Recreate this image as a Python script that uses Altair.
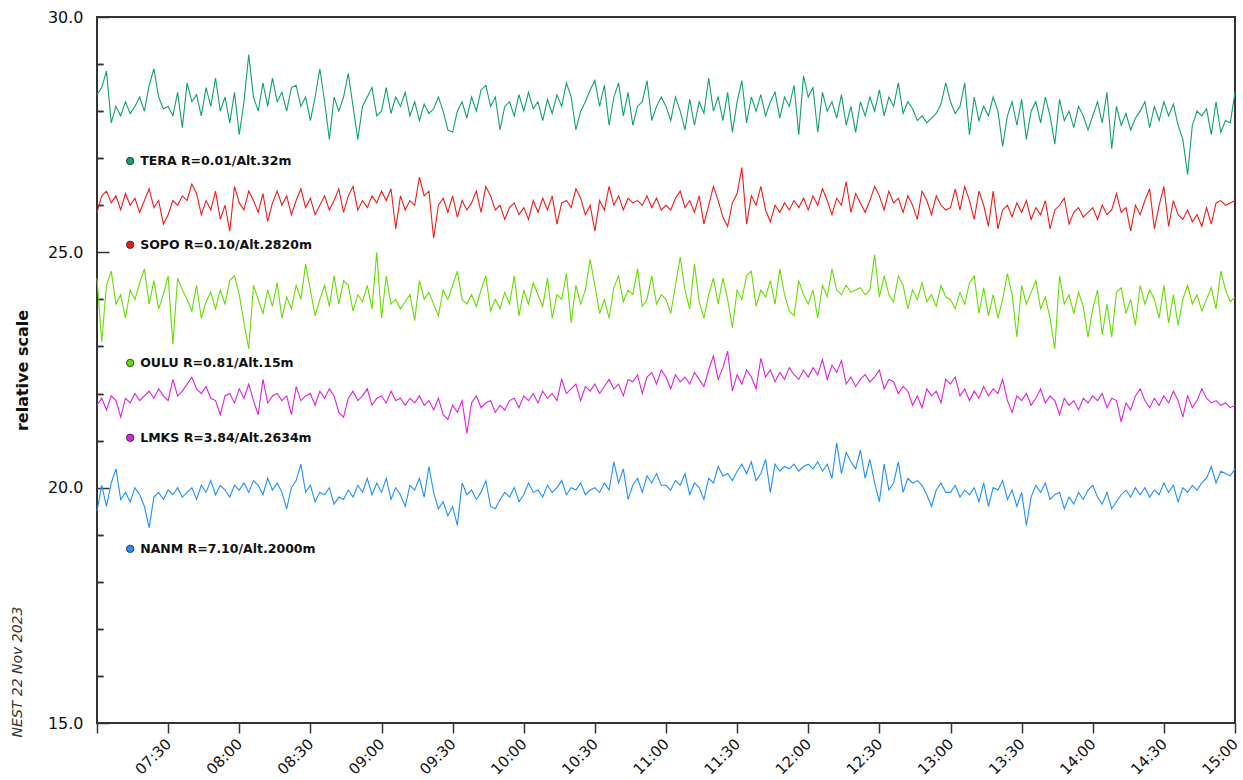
import altair as alt
import pandas as pd

stations = ["TERA", "SOPO", "OULU", "LMKS", "NANM"]
colors = ["#12a06e", "#ee1c1c", "#66dd00", "#dd22dd", "#2090ff"]
label_texts = ["TERA R=0.01/Alt.32m", "SOPO R=0.10/Alt.2820m", "OULU R=0.81/Alt.15m",
               "LMKS R=3.84/Alt.2634m", "NANM R=7.10/Alt.2000m"]
label_values = [26.94, 25.16, 22.65, 21.06, 18.70]
label_time = "2023-11-22T07:14:00Z"
footer_text = ["NEST  22 Nov 2023"]

tera = [
    28.35, 28.5, 28.85, 27.75, 28.1, 27.9, 28.2, 27.95, 28.1, 28.3, 28.0, 28.55, 28.9, 28.3, 28.05,
    28.1, 27.9, 28.4, 27.65, 28.6, 28.2, 28.35, 27.9, 28.5, 28.1, 28.7, 28.0, 28.3, 27.75, 28.4,
    27.5, 28.2, 29.2, 28.3, 28.0, 28.6, 28.1, 28.7, 28.2, 28.4, 28.0, 28.5, 28.55, 28.1, 28.3,
    27.8, 28.3, 28.9, 28.2, 27.4, 28.3, 28.0, 28.3, 28.8, 28.1, 27.4, 28.1, 28.3, 28.5, 27.9,
    28.0, 28.5, 27.95, 28.3, 28.1, 28.4, 27.9, 28.2, 27.8, 28.15, 27.95, 28.05, 28.3, 28.0, 27.6,
    27.55, 28.0, 28.2, 27.85, 28.3, 28.0, 28.45, 28.55, 28.1, 28.3, 27.6, 28.1, 28.2, 27.9, 28.35,
    28.0, 28.4, 28.05, 28.2, 27.8, 28.25, 27.95, 28.35, 28.1, 28.6, 28.3, 27.6, 28.0, 28.2, 28.45,
    28.65, 28.1, 28.55, 27.7, 28.3, 28.6, 27.9, 28.4, 27.7, 28.1, 28.2, 28.65, 27.8, 28.1, 28.3,
    28.1, 27.8, 28.3, 28.0, 27.6, 28.25, 27.7, 28.2, 27.95, 28.7, 28.0, 28.3, 27.8, 28.4, 27.55,
    28.2, 28.65, 27.75, 28.3, 28.0, 28.35, 27.9, 28.2, 28.4, 27.85, 28.3, 28.1, 28.55, 27.5, 28.75,
    28.3, 28.5, 27.55, 28.4, 28.0, 28.2, 27.85, 28.35, 27.7, 28.1, 27.55, 28.2, 27.9, 28.3, 28.0,
    28.45, 27.9, 28.3, 28.1, 28.6, 27.95, 28.2, 28.05, 27.8, 27.9, 27.75, 27.85, 27.95, 28.15, 28.6,
    28.2, 27.95, 28.1, 28.6, 27.5, 28.3, 27.8, 28.1, 27.9, 28.3, 28.0, 27.25, 27.9, 28.2, 27.7,
    28.25, 27.4, 28.0, 28.2, 27.75, 28.3, 27.9, 27.3, 28.25, 27.8, 28.0, 27.65, 28.1, 27.9, 27.6,
    27.9, 28.2, 27.75, 28.4, 27.2, 28.1, 27.7, 27.95, 27.6, 27.85, 28.0, 28.2, 27.65, 28.1, 27.8,
    28.2, 27.9, 28.15, 27.7, 27.4, 26.65, 27.7, 28.0, 27.9, 28.05, 27.5, 28.2, 27.55, 27.8, 27.75,
    28.4,
]

sopo = [
    25.85, 26.2, 26.3, 26.05, 26.2, 25.9, 26.25, 26.0, 26.15, 25.85, 26.1, 26.35, 25.95, 26.1, 25.6,
    25.8, 26.1, 26.0, 26.2, 26.1, 26.45, 26.25, 25.8, 26.1, 25.9, 26.3, 25.7, 26.0, 25.45, 26.4,
    26.05, 25.9, 26.3, 26.1, 25.85, 26.25, 25.65, 26.05, 26.3, 26.0, 26.2, 25.8, 26.1, 26.35, 25.95,
    26.15, 25.8, 26.0, 26.2, 25.9, 26.1, 26.35, 25.85, 26.2, 26.4, 25.9, 26.1, 25.95, 26.2, 26.05,
    26.3, 26.1, 26.35, 25.5, 26.2, 25.9, 26.1, 26.0, 26.6, 26.2, 26.3, 25.3, 26.0, 26.15, 25.85,
    26.2, 25.75, 26.1, 25.9, 26.05, 26.3, 25.85, 26.4, 26.2, 25.9, 26.0, 25.7, 25.95, 26.05, 25.8,
    25.95, 25.7, 26.1, 25.85, 26.15, 25.9, 26.2, 25.6, 26.05, 26.1, 25.95, 26.35, 26.15, 25.8, 26.0,
    25.45, 26.1, 25.9, 26.4, 26.0, 26.2, 25.9, 26.15, 26.05, 26.1, 26.0, 26.2, 25.95, 26.15, 25.9,
    26.0, 25.9, 26.15, 26.3, 25.95, 26.1, 25.85, 26.2, 25.6, 26.0, 26.4, 26.1, 25.75, 25.55, 26.05,
    26.25, 26.8, 25.6, 26.2, 26.0, 26.4, 25.9, 25.65, 26.0, 25.85, 26.05, 25.9, 26.1, 25.95, 26.15,
    25.9, 26.2, 26.0, 26.35, 26.1, 25.8, 26.15, 26.0, 26.5, 25.85, 26.25, 26.05, 25.85, 26.1, 26.4,
    26.2, 25.9, 26.3, 26.05, 26.15, 25.85, 26.2, 26.0, 25.7, 26.3, 26.1, 25.8, 26.2, 26.0, 25.9,
    25.95, 26.35, 25.9, 26.4, 26.1, 25.7, 26.3, 26.0, 25.55, 26.3, 25.5, 25.9, 26.0, 25.75, 26.05,
    25.85, 26.1, 25.7, 25.95, 25.8, 26.1, 25.5, 25.9, 26.0, 26.15, 25.6, 25.85, 25.95, 25.75, 25.85,
    25.95, 25.7, 26.0, 25.8, 25.9, 26.25, 25.85, 25.95, 25.45, 26.0, 25.8, 26.1, 26.35, 25.5, 26.0,
    26.4, 25.55, 26.1, 25.8, 25.7, 25.9, 25.65, 25.8, 25.55, 25.95, 25.6, 26.05, 26.1, 26.0, 26.05,
    26.1,
]

oulu = [
    24.45, 23.1, 24.3, 24.6, 23.9, 24.1, 23.6, 24.2, 24.0, 24.35, 24.65, 23.9, 24.4, 23.8, 24.1,
    24.5, 23.05, 24.45, 24.2, 24.0, 23.75, 24.3, 23.6, 23.95, 24.15, 23.8, 24.2, 23.9, 24.4, 24.5,
    24.1, 23.5, 22.95, 24.3, 24.0, 23.7, 24.2, 23.85, 24.35, 23.6, 24.05, 23.8, 24.3, 24.0, 24.75,
    24.2, 23.65, 24.0, 24.3, 23.85, 24.5, 23.9, 24.4, 24.3, 23.75, 24.1, 23.95, 24.3, 23.8, 25.0,
    23.6, 24.5, 23.9, 24.0, 23.8, 23.95, 24.1, 23.55, 24.4, 24.0, 24.15, 23.9, 23.65, 24.2, 24.0,
    24.3, 24.6, 24.0, 23.9, 24.1, 23.85, 24.2, 24.5, 23.75, 24.0, 23.8, 24.15, 23.9, 24.5, 23.65,
    24.2, 23.9, 24.35, 24.1, 23.85, 24.45, 23.6, 24.1, 24.0, 24.55, 23.5, 24.3, 23.9, 24.2, 24.85,
    24.3, 23.7, 24.0, 23.6, 24.25, 24.5, 23.95, 24.2, 24.1, 24.65, 23.85, 24.0, 24.5, 23.9, 24.1,
    24.0, 23.7, 24.3, 24.9, 24.2, 23.8, 24.75, 23.95, 23.6, 24.1, 24.45, 23.9, 24.45, 24.0, 23.4,
    24.2, 24.0, 24.5, 24.6, 23.85, 24.2, 24.05, 24.4, 23.9, 24.65, 24.1, 23.75, 23.65, 24.4, 24.1,
    23.9, 24.2, 23.6, 24.3, 24.05, 24.65, 24.2, 24.1, 24.3, 24.15, 24.2, 24.25, 24.1, 24.2, 24.95,
    24.05, 24.5, 24.1, 23.95, 24.5, 24.3, 23.8, 24.2, 24.0, 24.35, 23.95, 24.1, 23.85, 24.3, 24.05,
    24.0, 23.8, 24.15, 23.9, 24.35, 24.5, 23.7, 24.25, 23.65, 24.1, 23.6, 24.0, 24.55, 24.1, 23.2,
    24.3, 23.9, 24.15, 24.4, 23.8, 24.05, 23.6, 22.95, 24.5, 23.9, 24.1, 23.7, 24.15, 23.85, 23.2,
    23.8, 24.2, 23.25, 23.9, 23.2, 24.15, 24.25, 23.7, 24.0, 23.45, 24.3, 23.9, 24.2, 24.0, 23.6,
    24.3, 23.5, 24.1, 23.45, 24.0, 24.3, 23.9, 24.1, 23.75, 24.0, 24.25, 23.8, 24.6, 24.2, 23.95,
    24.05,
]

lmks = [
    21.75, 21.9, 21.65, 21.95, 21.85, 21.5, 21.9, 21.8, 22.0, 21.85, 21.95, 22.05, 21.9, 22.1, 21.95,
    21.85, 22.3, 21.95, 22.05, 22.2, 22.35, 22.1, 22.0, 22.15, 21.9, 21.85, 21.55, 21.95, 22.0, 21.8,
    22.1, 21.9, 22.2, 21.85, 21.55, 22.3, 21.8, 21.95, 22.0, 21.85, 21.95, 21.55, 22.15, 21.85, 21.95,
    22.0, 21.75, 22.05, 21.9, 22.1, 21.95, 21.6, 21.5, 21.9, 22.05, 21.85, 21.95, 22.1, 21.75, 21.9,
    21.95, 21.8, 22.05, 21.85, 21.9, 21.75, 21.9, 21.8, 21.95, 21.75, 21.85, 21.65, 21.9, 21.55, 21.45,
    21.75, 21.6, 21.85, 21.15, 21.8, 21.95, 21.7, 21.8, 21.85, 21.6, 21.75, 21.65, 21.85, 21.9, 21.7,
    21.95, 21.85, 22.0, 21.8, 22.05, 21.9, 22.0, 21.85, 22.3, 22.0, 22.1, 22.2, 21.85, 22.15, 22.05,
    22.2, 22.0, 22.15, 22.3, 22.1, 22.2, 21.95, 22.3, 22.25, 22.4, 22.0, 22.35, 22.45, 22.2, 22.5,
    22.35, 22.1, 22.4, 22.25, 22.35, 22.2, 22.45, 22.3, 22.15, 22.5, 22.8, 22.3, 22.55, 22.9, 22.05,
    22.4, 22.2, 22.5, 22.35, 22.1, 22.75, 22.35, 22.5, 22.25, 22.45, 22.3, 22.55, 22.4, 22.3, 22.5,
    22.35, 22.55, 22.4, 22.72, 22.3, 22.6, 22.45, 22.7, 22.2, 22.35, 22.15, 22.3, 22.4, 22.25, 22.35,
    22.5, 22.1, 22.3, 22.25, 22.0, 22.15, 22.05, 21.75, 21.95, 21.7, 22.1, 21.95, 22.05, 21.8, 22.3,
    22.2, 22.35, 21.95, 22.1, 21.85, 22.05, 21.9, 22.15, 21.95, 22.1, 22.0, 22.3, 21.85, 21.6, 21.95,
    21.85, 22.0, 21.75, 21.9, 22.1, 21.8, 21.95, 21.85, 21.55, 21.9, 21.75, 21.85, 21.65, 21.9, 21.8,
    21.95, 21.85, 22.0, 21.7, 21.9, 21.85, 21.4, 21.8, 21.65, 21.95, 22.1, 21.85, 21.7, 21.9, 21.75,
    21.95, 21.8, 22.05, 21.85, 21.5, 21.95, 21.7, 21.85, 22.1, 21.9, 21.8, 21.85, 21.75, 21.8, 21.7,
    21.75,
]

nanm = [
    19.5, 20.05, 19.6, 20.1, 20.4, 19.75, 19.9, 19.7, 20.0, 19.85, 19.6, 19.15, 19.8, 19.9, 19.75,
    19.95, 19.85, 20.0, 19.8, 19.9, 20.0, 19.75, 20.05, 19.9, 20.15, 19.85, 20.05, 19.95, 19.8, 20.05,
    19.95, 20.1, 19.9, 20.15, 20.05, 19.85, 20.2, 19.95, 20.1, 19.9, 19.55, 20.0, 20.15, 20.5, 19.9,
    20.05, 19.7, 19.9, 19.85, 20.0, 19.65, 19.8, 19.75, 19.95, 19.8, 20.05, 19.9, 20.2, 19.85, 20.1,
    19.9, 20.2, 19.75, 20.0, 19.85, 19.6, 20.05, 19.95, 20.2, 19.8, 20.45, 19.9, 19.55, 19.7, 19.4,
    19.6, 19.2, 20.1, 19.85, 19.95, 19.75, 19.9, 20.15, 19.6, 19.55, 19.75, 19.9, 19.8, 20.0, 19.7,
    19.85, 20.1, 19.9, 19.95, 19.8, 20.05, 19.9, 20.0, 20.15, 19.85, 20.0, 19.95, 20.1, 19.85, 19.95,
    20.0, 19.9, 20.1, 19.95, 20.55, 20.1, 20.4, 19.75, 20.05, 20.2, 19.9, 20.25, 20.1, 20.3, 20.05,
    20.05, 19.95, 20.15, 20.05, 20.3, 19.85, 20.1, 20.0, 19.75, 20.2, 20.1, 20.45, 20.25, 20.3, 20.15,
    20.35, 20.5, 20.3, 20.55, 20.15, 20.3, 20.6, 19.9, 20.5, 20.35, 20.45, 20.4, 20.5, 20.35, 20.45,
    20.5, 20.4, 20.55, 20.35, 20.5, 20.2, 20.95, 20.3, 20.75, 20.55, 20.4, 20.8, 20.2, 20.6, 20.1,
    19.7, 20.5, 19.95, 20.1, 20.55, 19.9, 20.2, 20.1, 20.15, 20.05, 19.85, 19.6, 19.95, 20.1, 19.9,
    19.9, 20.05, 19.8, 19.95, 19.85, 20.0, 19.7, 20.1, 19.6, 20.0, 19.95, 20.15, 19.75, 19.95, 19.6,
    19.9, 19.2, 19.8, 20.05, 19.9, 20.1, 19.75, 19.85, 19.9, 19.55, 19.8, 19.65, 19.9, 19.75, 19.95,
    20.05, 19.8, 19.65, 19.9, 19.55, 19.7, 19.85, 19.95, 19.8, 20.0, 19.85, 20.0, 19.8, 19.95, 19.85,
    20.1, 19.9, 20.05, 19.7, 20.0, 19.9, 20.05, 19.95, 20.1, 20.2, 20.45, 20.1, 20.35, 20.3, 20.25,
    20.4,
]

series = [tera, sopo, oulu, lmks, nanm]
times = pd.date_range("2023-11-22 07:00", periods=241, freq="2min")
rows = []
for st, vals in zip(stations, series):
    assert len(vals) == len(times), (st, len(vals))
    for t, v in zip(times, vals):
        rows.append({"time": t.strftime("%Y-%m-%dT%H:%M:00Z"), "station": st, "value": v})
df = pd.DataFrame(rows)

lab_df = pd.DataFrame({"time": [label_time] * 5, "station": stations,
                       "value": label_values, "text": label_texts})
foot_df = pd.DataFrame({"text": footer_text})


def dt(h, m):
    return alt.DateTime(year=2023, month=11, date=22, hours=h, minutes=m, utc=True)


tick_values = [dt(7 + (i * 30) // 60, (i * 30) % 60) for i in range(17)]
xscale = alt.Scale(type="utc", domain=[dt(7, 0), dt(15, 0)])
yscale = alt.Scale(domain=[15, 30], nice=False, zero=False)
cscale = alt.Scale(domain=stations, range=colors)

x_axis = alt.Axis(values=tick_values, format="%H:%M", labelAngle=-45, labelAlign="right",
                  labelBaseline="middle", labelPadding=8, labelFontSize=15,
                  labelFont="DejaVu Sans", labelColor="#111", tickSize=10, tickColor="#333",
                  tickWidth=1.5, domain=False, grid=False, title=None,
                  labelExpr="utchours(datum.value) == 7 && utcminutes(datum.value) == 0 ? '' : datum.label")

y_major = alt.Axis(values=[15, 20, 25, 30], format=".1f", orient="left", offset=-12,
                   tickSize=12, tickColor="#333", tickWidth=1.5, labelPadding=14,
                   labelFontSize=16, labelFont="DejaVu Sans", labelColor="#111",
                   domain=False, grid=False, title="relative scale", titleX=-87, titleY=353,
                   titleAngle=270, titleAlign="center", titleBaseline="middle",
                   titleFontSize=16, titleFont="DejaVu Sans", titleFontWeight="bold",
                   titleColor="#111")
y_minor = alt.Axis(values=[16, 17, 18, 19, 21, 22, 23, 24, 26, 27, 28, 29], orient="left",
                   offset=-6, tickSize=6, tickColor="#333", tickWidth=1.5, labels=False,
                   domain=False, grid=False, title=None)

xenc = alt.X("time:T", scale=xscale, axis=x_axis)

lines = alt.Chart(df).mark_line(strokeWidth=1.1).encode(
    x=xenc,
    y=alt.Y("value:Q", scale=yscale, axis=y_major),
    color=alt.Color("station:N", scale=cscale, legend=None),
    detail="station:N",
)

dots = alt.Chart(lab_df).mark_circle(size=55, opacity=1, stroke="#222", strokeWidth=0.8).encode(
    x=xenc,
    y=alt.Y("value:Q", scale=yscale, axis=y_minor),
    color=alt.Color("station:N", scale=cscale, legend=None),
)

texts = alt.Chart(lab_df).mark_text(align="left", baseline="middle", dx=10, fontSize=12.5,
                                    fontWeight="bold", font="DejaVu Sans", color="#111").encode(
    x=xenc,
    y=alt.Y("value:Q", scale=yscale, axis=y_minor),
    text="text:N",
)

footer = alt.Chart(foot_df).mark_text(angle=270, fontSize=14, fontStyle="italic",
                                      font="DejaVu Sans", color="#333", align="center",
                                      baseline="middle").encode(
    x=alt.value(-79), y=alt.value(672 - 17), text="text:N")

chart = alt.layer(lines, dots, texts, footer).resolve_axis(y="independent").properties(
    width=1138, height=706,
    autosize=alt.AutoSizeParams(type="none"),
    padding={"left": 97, "top": 17, "right": 8, "bottom": 57},
    background="white",
).configure_view(stroke="#333", strokeWidth=2)

chart.save("out.html", embed_options={"renderer": "svg", "actions": False})
